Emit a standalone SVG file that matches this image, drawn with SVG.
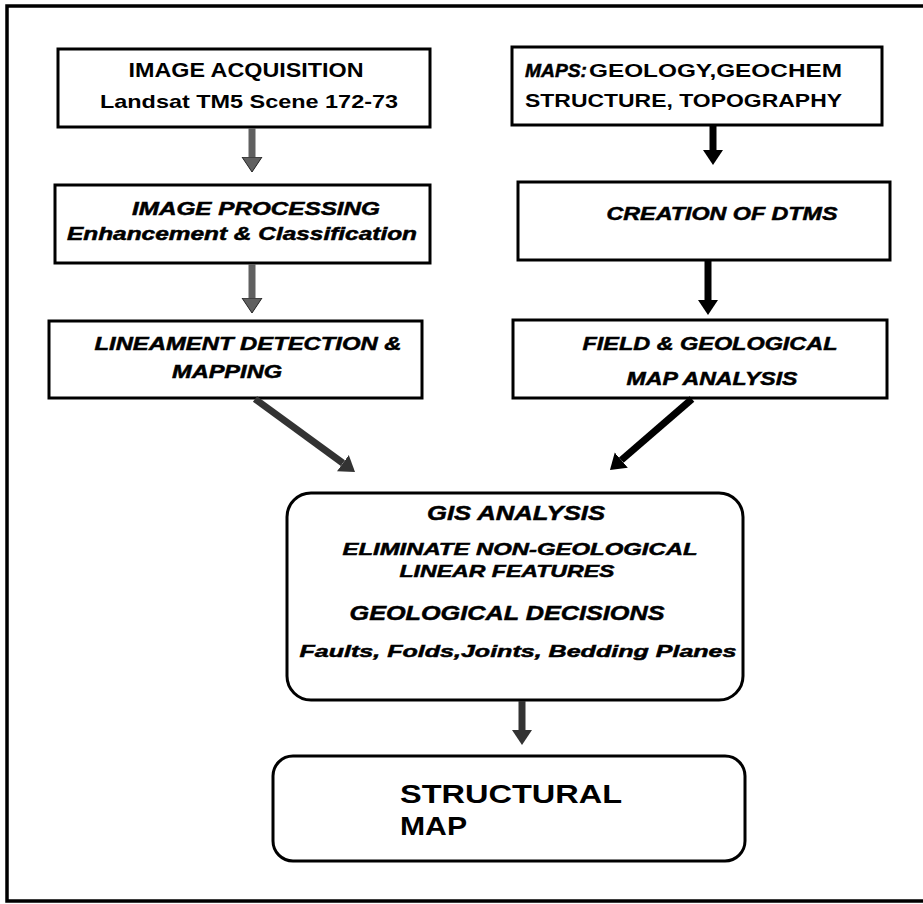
<svg xmlns="http://www.w3.org/2000/svg" width="923" height="904" viewBox="0 0 923 904">
<style>
.box{fill:#fff;stroke:#000;stroke-width:3}
.frame{fill:none;stroke:#000;stroke-width:3.5}
text{font-family:"Liberation Sans",Arial,Helvetica,sans-serif;font-weight:bold;fill:#000}
.it{font-style:italic;stroke:#000;stroke-width:0.5}
.reg{font-weight:bold}
.c{text-anchor:middle}
.gray{stroke:#606060;stroke-width:7;fill:none}
.dark{stroke:#333;stroke-width:7;fill:none}
.blk{stroke:#000;stroke-width:7;fill:none}
</style>
<defs>
<marker id="hg" markerUnits="userSpaceOnUse" markerWidth="16" markerHeight="22" refX="0" refY="11" orient="auto">
<path d="M0,1 L15,11 L0,21 z" fill="#606060" stroke="#222" stroke-width="1"/>
</marker>
<marker id="hd" markerUnits="userSpaceOnUse" markerWidth="16" markerHeight="22" refX="0" refY="11" orient="auto">
<path d="M0,1 L15,11 L0,21 z" fill="#333"/>
</marker>
<marker id="hb" markerUnits="userSpaceOnUse" markerWidth="16" markerHeight="22" refX="0" refY="11" orient="auto">
<path d="M0,1 L15,11 L0,21 z" fill="#000"/>
</marker>
</defs>
<rect width="923" height="904" fill="#fff"/>
<path class="frame" d="M930,6 L7,6 L7,901 L930,901"/>

<g id="n-acquisition">
<rect class="box" x="58" y="49" width="372" height="78"/>
<text x="246" y="77" font-size="20" class="c" textLength="235" lengthAdjust="spacingAndGlyphs">IMAGE ACQUISITION</text>
<text x="249" y="108" font-size="19" class="c" textLength="298" lengthAdjust="spacingAndGlyphs">Landsat TM5 Scene 172-73</text>
</g>

<g id="n-processing">
<rect class="box" x="55" y="185" width="375" height="78"/>
<text x="256" y="215" font-size="18" class="c it" textLength="248" lengthAdjust="spacingAndGlyphs">IMAGE PROCESSING</text>
<text x="242" y="240" font-size="18" class="c it" textLength="350" lengthAdjust="spacingAndGlyphs">Enhancement &amp; Classification</text>
</g>

<g id="n-lineament">
<rect class="box" x="49" y="321" width="373" height="77"/>
<text x="248" y="350" font-size="18" class="c it" textLength="307" lengthAdjust="spacingAndGlyphs">LINEAMENT DETECTION &amp;</text>
<text x="227" y="378" font-size="18" class="c it" textLength="110" lengthAdjust="spacingAndGlyphs">MAPPING</text>
</g>

<g id="n-maps">
<rect class="box" x="512" y="47" width="370" height="78"/>
<text x="525" y="77" font-size="18"><tspan class="it" textLength="62" lengthAdjust="spacingAndGlyphs">MAPS:</tspan><tspan x="589" textLength="253" lengthAdjust="spacingAndGlyphs">GEOLOGY,GEOCHEM</tspan></text>
<text x="525" y="107" font-size="18" textLength="317" lengthAdjust="spacingAndGlyphs">STRUCTURE,  TOPOGRAPHY</text>
</g>

<g id="n-dtms">
<rect class="box" x="518" y="182" width="372" height="78"/>
<text x="722" y="220" font-size="18" class="c it" textLength="231" lengthAdjust="spacingAndGlyphs">CREATION OF DTMS</text>
</g>

<g id="n-field">
<rect class="box" x="513" y="320" width="374" height="78"/>
<text x="710" y="350" font-size="18" class="c it" textLength="255" lengthAdjust="spacingAndGlyphs">FIELD &amp; GEOLOGICAL</text>
<text x="712" y="385" font-size="18" class="c it" textLength="171" lengthAdjust="spacingAndGlyphs">MAP ANALYSIS</text>
</g>

<g id="n-gis">
<rect class="box" x="287" y="493" width="456" height="207" rx="24" ry="24" stroke-width="3.5"/>
<text x="516" y="520" font-size="21" class="c it" textLength="178" lengthAdjust="spacingAndGlyphs">GIS ANALYSIS</text>
<text x="520" y="555" font-size="17" class="c it" textLength="355" lengthAdjust="spacingAndGlyphs">ELIMINATE NON-GEOLOGICAL</text>
<text x="507" y="577" font-size="17" class="c it" textLength="215" lengthAdjust="spacingAndGlyphs">LINEAR FEATURES</text>
<text x="507" y="620" font-size="21" class="c it" textLength="315" lengthAdjust="spacingAndGlyphs">GEOLOGICAL DECISIONS</text>
<text x="518" y="657" font-size="17" class="c it" textLength="437" lengthAdjust="spacingAndGlyphs">Faults, Folds,Joints, Bedding Planes</text>
</g>

<g id="n-structural">
<rect class="box" x="273" y="756" width="472" height="105" rx="20" ry="20" stroke-width="3.5"/>
<text x="400" y="803" font-size="25" class="reg" textLength="222" lengthAdjust="spacingAndGlyphs">STRUCTURAL</text>
<text x="400" y="835" font-size="25" class="reg" textLength="67" lengthAdjust="spacingAndGlyphs">MAP</text>
</g>

<g id="connectors">
<line class="gray" x1="252" y1="128" x2="252" y2="157" marker-end="url(#hg)"/>
<line class="gray" x1="252" y1="264" x2="252" y2="298" marker-end="url(#hg)"/>
<line class="blk" x1="713" y1="126" x2="713" y2="150" marker-end="url(#hb)"/>
<line class="blk" x1="708" y1="261" x2="708" y2="300" marker-end="url(#hb)"/>
<line class="dark" x1="255" y1="399" x2="342.9" y2="463.1" marker-end="url(#hd)"/>
<line class="blk" x1="692" y1="399" x2="621.3" y2="460.1" marker-end="url(#hb)"/>
<line class="dark" x1="522" y1="701" x2="522" y2="730" marker-end="url(#hd)"/>
</g>
</svg>
